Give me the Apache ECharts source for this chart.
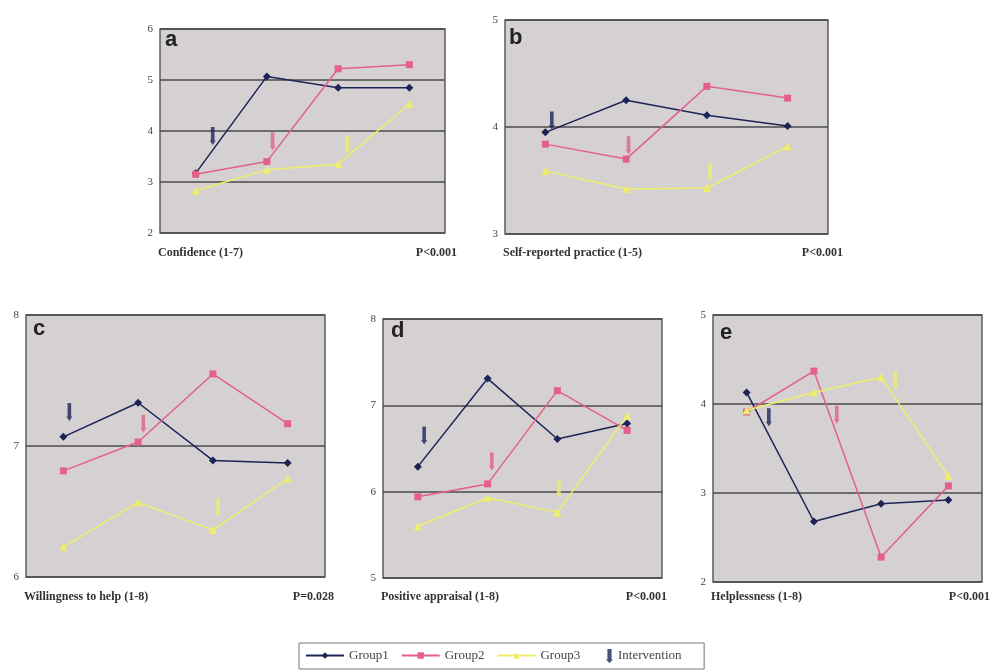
<!DOCTYPE html>
<html>
<head>
<meta charset="utf-8">
<script src="https://cdn.jsdelivr.net/npm/echarts@6/dist/echarts.min.js"></script>
<style>
html,body{margin:0;padding:0;background:#fff;}
#chart{width:991px;height:672px;}
</style>
</head>
<body>
<div id="chart"></div>
<script>
// ---- data ----
const timepoints = [1, 2, 3, 4];
const groupNames = ['Group1', 'Group2', 'Group3'];

const panelLetters = ['a', 'b', 'c', 'd', 'e'];
const panelTitles = ['Confidence (1-7)', 'Self-reported practice (1-5)', 'Willingness to help (1-8)', 'Positive appraisal (1-8)', 'Helplessness (1-8)'];
const panelPValues = ['P<0.001', 'P<0.001', 'P=0.028', 'P<0.001', 'P<0.001'];
const yMins = [2, 3, 6, 5, 2];
const yMaxs = [6, 5, 8, 8, 5];

const group1 = [
  [3.17, 5.07, 4.85, 4.85],
  [3.95, 4.25, 4.11, 4.01],
  [7.07, 7.33, 6.89, 6.87],
  [6.29, 7.31, 6.61, 6.79],
  [4.13, 2.68, 2.88, 2.92]
];
const group2 = [
  [3.15, 3.40, 5.22, 5.30],
  [3.84, 3.70, 4.38, 4.27],
  [6.81, 7.03, 7.55, 7.17],
  [5.94, 6.09, 7.17, 6.71],
  [3.91, 4.37, 2.28, 3.08]
];
const group3 = [
  [2.83, 3.24, 3.35, 4.53],
  [3.59, 3.42, 3.43, 3.82],
  [6.23, 6.57, 6.36, 6.75],
  [5.60, 5.93, 5.76, 6.88],
  [3.93, 4.13, 4.30, 3.19]
];
// intervention arrows: x position (timepoint scale) and y value, for Group1, Group2, Group3
const arrowX = [
  [1.24, 2.08, 3.13],
  [1.08, 2.03, 3.04],
  [1.08, 2.07, 3.07],
  [1.09, 2.06, 3.02],
  [1.33, 2.34, 3.21]
];
const arrowY = [
  [3.90, 3.80, 3.73],
  [4.06, 3.83, 3.58],
  [7.26, 7.17, 6.53],
  [6.65, 6.35, 6.04],
  [3.85, 3.88, 4.26]
];

// ---- styling / layout ----
const colors = ['#1c2456', '#e4608a', '#eeee6a'];
const symbols = ['diamond', 'rect', 'triangle'];
const symbolSizes = [8, 7, 8];
const grids = [
  {left: 160, top: 29, width: 285, height: 204},
  {left: 505, top: 20, width: 323, height: 214},
  {left: 26, top: 315, width: 299, height: 262},
  {left: 383, top: 319, width: 279, height: 259},
  {left: 713, top: 315, width: 269, height: 267}
];
const letterPos = [[165, 29], [509, 27], [33, 318], [391, 320], [720, 322]];
const captionTop = [247, 247, 591, 591, 591];
const captionRight = [457, 843, 334, 667, 990];
const arrowPath = 'path://M2,0 L8,0 L8,15 L10,15 L5,20 L0,15 L2,15 Z';
const serif = '"Liberation Serif", "DejaVu Serif", serif';
const groupData = [group1, group2, group3];

const option = {
  backgroundColor: '#ffffff',
  animation: false,
  grid: grids.map(g => Object.assign({show: true, backgroundColor: '#d5d1d3', borderColor: '#5c5c5c', borderWidth: 1.5}, g)),
  xAxis: grids.map((g, i) => ({
    type: 'value', gridIndex: i, min: 0.5, max: 4.5,
    axisLine: {show: false}, axisTick: {show: false}, axisLabel: {show: false}, splitLine: {show: false}
  })),
  yAxis: grids.map((g, i) => ({
    type: 'value', gridIndex: i, min: yMins[i], max: yMaxs[i], interval: 1,
    axisLine: {show: false}, axisTick: {show: false},
    axisLabel: {color: '#444', fontFamily: serif, fontSize: 11, margin: 7},
    splitLine: {show: true, lineStyle: {color: '#4a4a4a', width: 1.5}}
  })),
  title: [],
  legend: [{
    left: 299, top: 643,
    padding: [6, 124, 7, 6],
    borderColor: '#777', borderWidth: 1,
    itemGap: 12, itemWidth: 38, itemHeight: 8,
    textStyle: {fontFamily: serif, fontSize: 13, color: '#444'},
    data: ['Group1', 'Group2', 'Group3']
  }, {
    left: 606, top: 649,
    padding: 0,
    itemWidth: 7, itemHeight: 16, itemGap: 6,
    textStyle: {fontFamily: serif, fontSize: 13, color: '#444'},
    data: ['Intervention']
  }],
  series: []
};

grids.forEach((g, i) => {
  option.title.push({
    text: panelLetters[i], left: letterPos[i][0], top: letterPos[i][1], padding: 0,
    textStyle: {fontFamily: '"Liberation Sans", Arial, sans-serif', fontWeight: 'bold', fontSize: 22, color: '#222'}
  });
  option.title.push({
    text: panelTitles[i], left: g.left - 2, top: captionTop[i], padding: 0,
    textStyle: {fontFamily: serif, fontWeight: 'bold', fontSize: 12, color: '#333'}
  });
  option.title.push({
    text: panelPValues[i], right: 991 - captionRight[i], top: captionTop[i], padding: 0,
    textStyle: {fontFamily: serif, fontWeight: 'bold', fontSize: 12, color: '#333'}
  });
  groupData.forEach((gd, k) => {
    option.series.push({
      name: groupNames[k], type: 'line', xAxisIndex: i, yAxisIndex: i,
      data: timepoints.map((t, j) => [t, gd[i][j]]),
      symbol: symbols[k], symbolSize: symbolSizes[k], showAllSymbol: true,
      lineStyle: {color: colors[k], width: 1.5},
      itemStyle: {color: colors[k]},
      z: 2 + k
    });
  });
  option.series.push({
    name: 'Intervention', type: 'scatter', xAxisIndex: i, yAxisIndex: i,
    symbol: arrowPath, symbolSize: [6, 18],
    itemStyle: {color: colors[0]},
    data: arrowX[i].map((x, k) => ({value: [x, arrowY[i][k]], itemStyle: {color: colors[k]}})),
    z: 6
  });
});

const chart = echarts.init(document.getElementById('chart'), null, {renderer: 'canvas'});
chart.setOption(option);
</script>
</body>
</html>
